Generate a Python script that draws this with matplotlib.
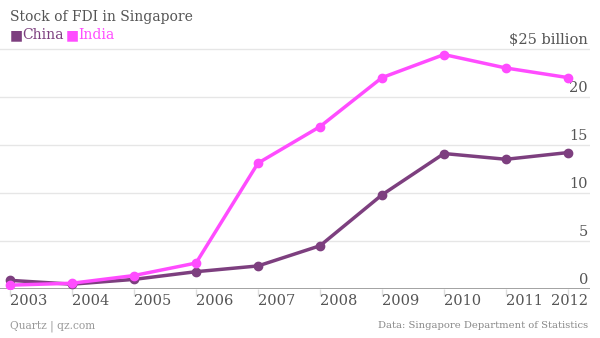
import matplotlib
matplotlib.use("Agg")
import matplotlib.pyplot as plt
import matplotlib.transforms as mtransforms

years = [2003, 2004, 2005, 2006, 2007, 2008, 2009, 2010, 2011, 2012]
china = [0.9, 0.5, 1.0, 1.8, 2.4, 4.5, 9.8, 14.1, 13.5, 14.2]
india = [0.4, 0.6, 1.4, 2.7, 13.1, 16.9, 22.0, 24.4, 23.0, 22.0]
yticks = [0, 5, 10, 15, 20, 25]
ylabels = ["0", "5", "10", "15", "20", "$25 billion"]

purple = "#7d3f7f"
magenta = "#ff4cff"
txt = "#555555"
plt.rcParams['font.family'] = ['DejaVu Serif']

fig = plt.figure(figsize=(6, 3.38), dpi=100)
ax = fig.add_axes([0, 0.145, 590 / 600, 0.722])

for yv in yticks[1:]:
    ax.axhline(yv, color="#e6e6e6", lw=1, zorder=0)
ax.axhline(0, color="#999999", lw=2, zorder=1)

ax.plot(years, china, color=purple, lw=2.5, marker="o", ms=6, zorder=3)
ax.plot(years, india, color=magenta, lw=2.5, marker="o", ms=6, zorder=4)

ax.set_xlim(2003 - 10 / 62, 2012 + 22 / 62)
ax.set_ylim(0, 25.4)
for s in ax.spines.values():
    s.set_visible(False)
ax.set_yticks([])
ax.set_xticks(years)
ax.set_xticklabels([])
ax.tick_params(axis="x", length=5, width=1, color="#dddddd", pad=0, direction="out")

# y labels sit above the gridlines, right side
tr = mtransforms.blended_transform_factory(ax.transAxes, ax.transData)
off = mtransforms.offset_copy(tr, fig=fig, x=-2, y=2, units="dots")
for yv, lab in zip(yticks, ylabels):
    ax.text(1.0, yv, lab, transform=off, ha="right", va="bottom",
            fontsize=10.5, color=txt)

# x labels start at the tick, last one pushed against the edge
xt = mtransforms.blended_transform_factory(ax.transData, fig.transFigure)
for yr in years:
    if yr == years[-1]:
        fig.text(588 / 600, 1 - 301 / 338, str(yr), ha="right", va="center",
                 fontsize=10.5, color=txt)
    else:
        ax.text(yr, 1 - 301 / 338, str(yr), transform=xt, ha="left",
                va="center", fontsize=10.5, color=txt)

fig.text(10 / 600, 1 - 17 / 338, "Stock of FDI in Singapore", fontsize=10,
         color=txt, va="center", ha="left")
fig.text(10 / 600, 1 - 35 / 338, "\u25a0", fontsize=10, color=purple, va="center")
fig.text(22 / 600, 1 - 35 / 338, "China", fontsize=10, color=purple, va="center")
fig.text(66 / 600, 1 - 35 / 338, "\u25a0", fontsize=10, color=magenta, va="center")
fig.text(78 / 600, 1 - 35 / 338, "India", fontsize=10, color=magenta, va="center")

fig.text(10 / 600, 1 - 326 / 338, "Quartz | qz.com", fontsize=7.7,
         color="#999999", va="center", ha="left")
fig.text(588 / 600, 1 - 326 / 338, "Data: Singapore Department of Statistics",
         fontsize=7.2, color="#888888", va="center", ha="right")

fig.savefig("out.png", dpi=100)
